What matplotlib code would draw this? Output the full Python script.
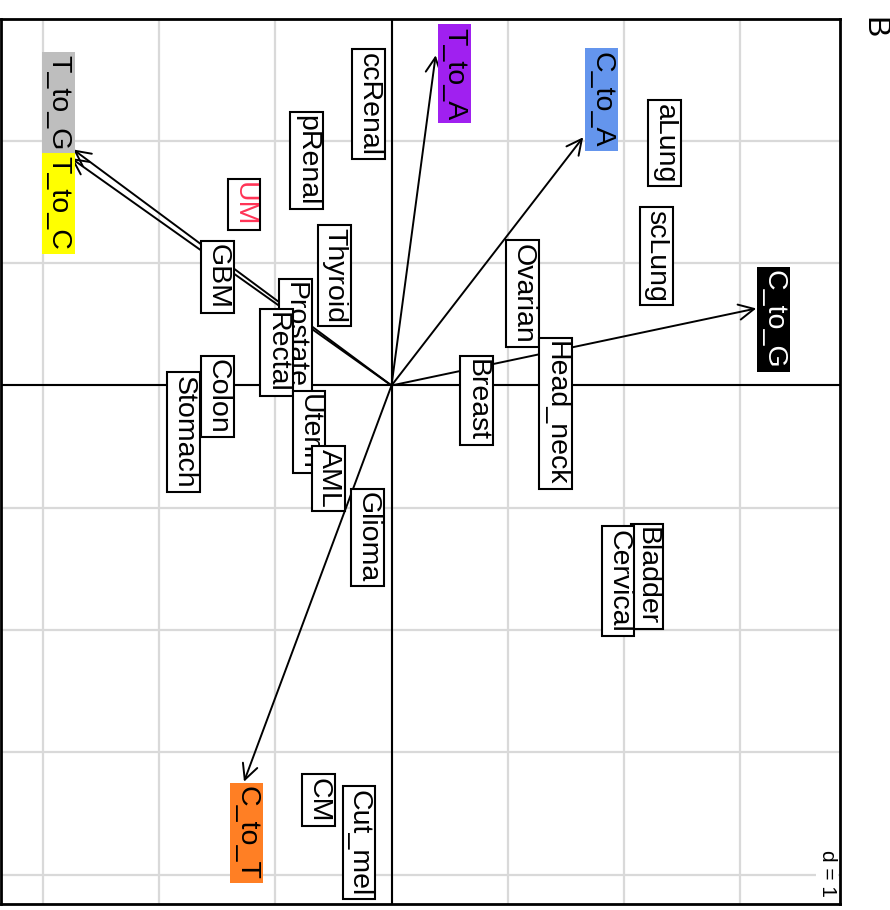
import matplotlib
matplotlib.use("Agg")
import matplotlib.pyplot as plt

plt.rcParams['font.family'] = ['Liberation Sans', 'DejaVu Sans']

# Row scores (axis 1 = vertical, downward; axis 2 = horizontal)
cancers = ["ccRenal", "pRenal", "UM", "Thyroid", "GBM", "Prostate", "Rectal",
           "Colon", "Stomach", "Uterin", "AML", "Glioma", "CM", "Cut_mel",
           "aLung", "scLung", "Ovarian", "Head_neck", "Breast", "Bladder", "Cervical"]
cancer_ax1 = [-2.30, -1.84, -1.48, -0.90, -0.89, -0.41, -0.27,
              0.09, 0.38, 0.38, 0.76, 1.24, 3.39, 3.74,
              -1.98, -1.06, -0.75, 0.23, 0.12, 1.56, 1.60]
cancer_ax2 = [-0.20, -0.73, -1.27, -0.49, -1.50, -0.83, -0.99,
              -1.50, -1.79, -0.71, -0.54, -0.21, -0.63, -0.28,
              2.35, 2.28, 1.13, 1.41, 0.73, 2.20, 1.95]
cancer_textcol = ["black", "black", "#FF3355"] + ["black"] * 18

# Column scores (arrows)
subs = ["T_to_G", "T_to_C", "T_to_A", "C_to_A", "C_to_G", "C_to_T"]
sub_ax1 = [-1.93, -1.86, -2.70, -2.03, -0.63, 3.24]
sub_ax2 = [-2.74, -2.76, 0.38, 1.65, 3.14, -1.27]
sub_lab_ax1 = [-2.31, -1.49, -2.55, -2.34, -0.54, 3.66]
sub_lab_ax2 = [-2.87, -2.87, 0.54, 1.81, 3.29, -1.25]
sub_bg = ["#BEBEBE", "#FFFF00", "#A020F0", "#6495ED", "#000000", "#FF7F24"]
sub_fg = ["black", "black", "black", "black", "white", "black"]

grid_vals = [-3, -2, -1, 0, 1, 2, 3, 4]

fig = plt.figure(figsize=(8.9, 9.1), dpi=100)
ax = fig.add_axes([1/890, 6/910, 839/890, 885/910])
ax.set_xlim(-3.362, 3.861)
ax.set_ylim(4.240, -2.997)

for g in grid_vals:
    ax.axvline(g, color="#D9D9D9", lw=1.6, zorder=0)
    ax.axhline(g, color="#D9D9D9", lw=1.6, zorder=0)
ax.axvline(0, color="black", lw=1.5, zorder=1)
ax.axhline(0, color="black", lw=1.5, zorder=1)

for a1, a2 in zip(sub_ax1, sub_ax2):
    ax.annotate("", xy=(a2, a1), xytext=(0, 0),
                arrowprops=dict(arrowstyle="->,head_length=0.5,head_width=0.25",
                                lw=1.4, color="black",
                                mutation_scale=22, shrinkA=0, shrinkB=0),
                zorder=2)

for name, a1, a2, col in zip(cancers, cancer_ax1, cancer_ax2, cancer_textcol):
    ax.text(a2, a1, name, rotation=-90, ha="center", va="center",
            fontsize=20.5, color=col, zorder=3,
            bbox=dict(boxstyle="square,pad=0.12", fc="white", ec="black", lw=1.5))

for name, a1, a2, bg, fg in zip(subs, sub_lab_ax1, sub_lab_ax2, sub_bg, sub_fg):
    ax.text(a2, a1, name, rotation=-90, ha="center", va="center",
            fontsize=20.5, color=fg, zorder=4,
            bbox=dict(boxstyle="square,pad=0.12", fc=bg, ec="none"))

for s in ax.spines.values():
    s.set_linewidth(2)
    s.set_zorder(6)
ax.set_xticks([])
ax.set_yticks([])

ax.text(827/890, 1 - 873/910, "d = 1", rotation=-90,
        transform=fig.transFigure, ha="center", va="center", fontsize=15, zorder=5,
        bbox=dict(boxstyle="square,pad=0.08", fc="white", ec="none"))

fig.text(873/890, 1 - 28/910, "B", rotation=-90, ha="center", va="center", fontsize=23)

fig.savefig("out.png", dpi=100)
